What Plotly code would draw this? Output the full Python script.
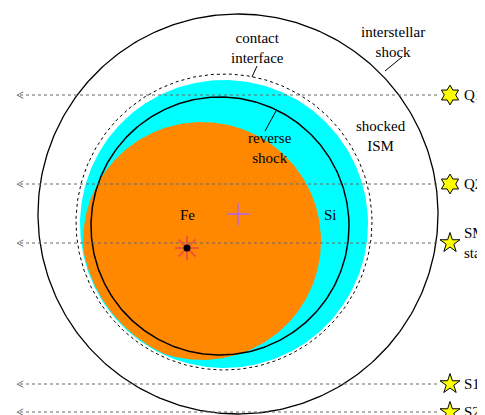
import numpy as np
import plotly.graph_objects as go

# geometry (pixel-space schematic)
outer = (230, 206, 200)        # interstellar shock
contact = (216, 214, 148)      # contact interface (dotted)
si_disk = (216, 216, 144)      # Si ejecta (cyan)
reverse = (212, 218, 129)      # reverse shock
fe_disk = (194, 233, 119)      # Fe ejecta (orange)

sight_names = ["Q1", "Q2", "SM<br>star", "S1", "S2"]
sight_y = [87, 176, 235, 376, 404]
sight_symbols = ["hexagram", "hexagram", "star", "star", "star"]

labels = ["contact<br>interface", "interstellar<br>shock", "reverse<br>shock", "shocked<br>ISM", "Fe", "Si"]
label_xy = [(249, 40), (385, 34), (262, 140), (373, 128), (179, 207), (322, 207)]
leaders = [((244, 69), (249, 58)), ((377, 63), (394, 49)), ((257, 123), (268, 103))]

def circ(c, n=361):
    t = np.linspace(0, 2 * np.pi, n)
    return c[0] + c[2] * np.cos(t), c[1] + c[2] * np.sin(t)

fig = go.Figure()
x, y = circ(si_disk)
fig.add_trace(go.Scatter(x=x, y=y, fill="toself", fillcolor="#00FFFF", line=dict(width=0), mode="lines"))
# Fe disk clipped to Si disk
fx, fy = circ(fe_disk)
dx, dy = fx - si_disk[0], fy - si_disk[1]
d = np.hypot(dx, dy)
s = np.minimum(1, (si_disk[2] - 1) / d)
fig.add_trace(go.Scatter(x=si_disk[0] + dx * s, y=si_disk[1] + dy * s, fill="toself",
                         fillcolor="#FF8800", line=dict(width=0), mode="lines"))
x, y = circ(reverse)
fig.add_trace(go.Scatter(x=x, y=y, mode="lines", line=dict(color="black", width=1.5)))
x, y = circ(contact)
fig.add_trace(go.Scatter(x=x, y=y, mode="lines", line=dict(color="black", width=1, dash="dot")))
x, y = circ(outer)
fig.add_trace(go.Scatter(x=x, y=y, mode="lines", line=dict(color="black", width=1.3)))

for yy in sight_y:
    fig.add_trace(go.Scatter(x=[12, 432], y=[yy, yy], mode="lines",
                             line=dict(color="#666", width=1, dash="dot")))
    fig.add_annotation(x=12, y=yy, text="<", showarrow=False, xanchor="center",
                       font=dict(size=14, color="#444", family="Liberation Serif"))
fig.add_trace(go.Scatter(x=[442] * len(sight_y), y=sight_y, mode="markers",
                         marker=dict(symbol=sight_symbols, size=15, color="yellow",
                                     line=dict(color="black", width=1))))
for n, yy in zip(sight_names, sight_y):
    fig.add_annotation(x=454, y=yy, text=n, showarrow=False, xanchor="left",
                       font=dict(size=15, color="black", family="Liberation Serif"))

# explosion site and center marker
fig.add_trace(go.Scatter(x=[179], y=[240], mode="markers",
                         marker=dict(symbol="asterisk-open", size=20, line=dict(color="black", width=2))))
fig.add_trace(go.Scatter(x=[179], y=[240], mode="markers",
                         marker=dict(symbol="circle", size=7, color="black")))
fig.add_trace(go.Scatter(x=[230], y=[206], mode="markers",
                         marker=dict(symbol="cross-thin-open", size=16, line=dict(color="black", width=1.3))))

for t, (lx, ly) in zip(labels, label_xy):
    fig.add_annotation(x=lx, y=ly, text=t, showarrow=False, align="center",
                       font=dict(size=15, color="black", family="Liberation Serif"))
for (a, b) in leaders:
    fig.add_trace(go.Scatter(x=[a[0], b[0]], y=[a[1], b[1]], mode="lines",
                             line=dict(color="black", width=1)))

fig.update_layout(width=485, height=415, margin=dict(l=0, r=0, t=0, b=0),
                  plot_bgcolor="white", paper_bgcolor="white", showlegend=False,
                  xaxis=dict(range=[0, 485], visible=False),
                  yaxis=dict(range=[415, 0], visible=False))
fig.write_html("out.html")
